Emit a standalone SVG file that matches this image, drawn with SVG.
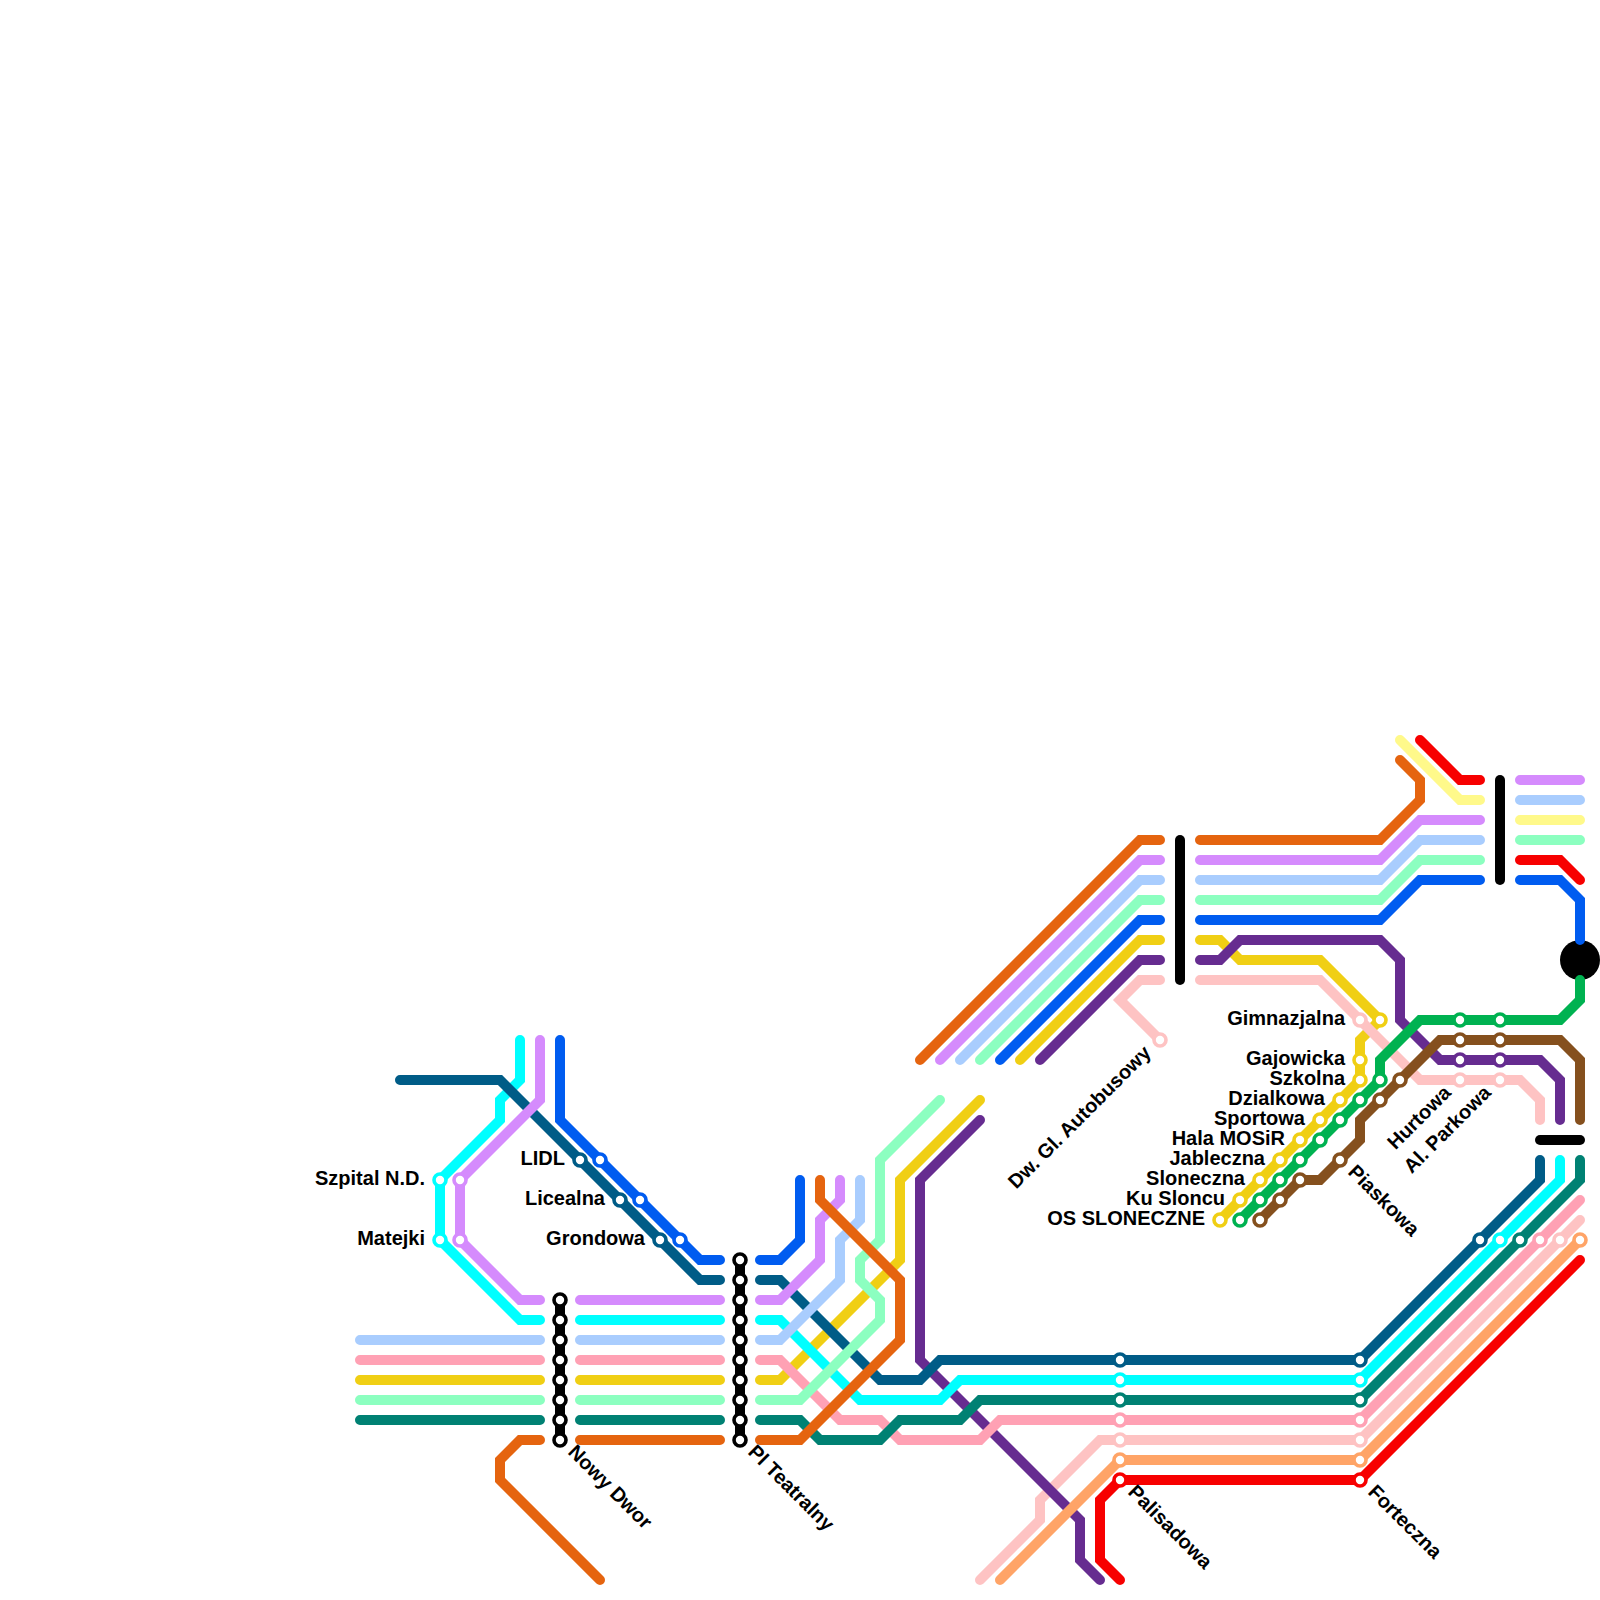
<svg xmlns="http://www.w3.org/2000/svg" width="1600" height="1600" viewBox="0 0 1600 1600">
<style>
path,line{fill:none;stroke-width:10;stroke-linecap:round;stroke-linejoin:miter}
circle{fill:#fff;stroke-width:3.6}
text{font-family:"Liberation Sans",Arial,sans-serif;font-weight:bold;font-size:20px;fill:#000}
.e{text-anchor:end}
.k{stroke:#000}
.orange{stroke:#e5640f}.lilac{stroke:#d58bfd}.sky{stroke:#a9cdfe}.mint{stroke:#8cffc0}.blue{stroke:#005cf0}.yellow{stroke:#f0cf14}.purple{stroke:#662c90}.blush{stroke:#fec3c3}.dark{stroke:#005c87}.cyan{stroke:#00ffff}.teal{stroke:#008173}.rose{stroke:#ffa1b4}.peach{stroke:#ffa467}.red{stroke:#f70000}.green{stroke:#00b251}.brown{stroke:#85501e}.pale{stroke:#fff98a}
</style>
<rect width="1600" height="1600" fill="#fff"/>
<g id="hub"><circle cx="1580" cy="960" r="20" style="fill:#000;stroke:none"/></g>
<g id="connectors">
<path class="yellow" d="M580 1380H720M360 1380H540M760 1380H780L900 1260V1180L980 1100M1020 1060L1140 940H1160M1200 940H1220L1240 960H1320L1380 1020L1360 1040V1080L1220 1220"/>
<path class="blush" d="M1160 980H1140L1120 1000L1160 1040M1200 980H1320L1420 1080H1520L1540 1100V1120M980 1580L1040 1520V1500L1100 1440H1360L1580 1220"/>
<path class="purple" d="M980 1120L920 1180V1360L1080 1520V1560L1100 1580M1040 1060L1140 960H1160M1200 960H1220L1240 940H1380L1400 960V1020L1440 1060H1540L1560 1080V1120"/>
<path class="cyan" d="M520 1040V1080L500 1100V1120L440 1180V1240L520 1320H540M580 1320H720M760 1320H780L860 1400H940L960 1380H1360L1560 1180V1160"/>
<path class="dark" d="M400 1080H500L700 1280H720M760 1280H780L880 1380H920L940 1360H1360L1540 1180V1160"/>
<path class="rose" d="M360 1360H540M580 1360H720M760 1360H780L840 1420H880L900 1440H980L1000 1420H1360L1580 1200"/>
<path class="teal" d="M360 1420H540M580 1420H720M760 1420H800L820 1440H880L900 1420H960L980 1400H1360L1580 1180V1160"/>
<path class="mint" d="M360 1400H540M580 1400H720M760 1400H800L880 1320V1300L860 1280V1260L880 1240V1160L940 1100M980 1060L1140 900H1160M1200 900H1380L1420 860H1480M1520 840H1580"/>
<path class="lilac" d="M540 1040V1100L460 1180V1240L520 1300H540M580 1300H720M760 1300H780L820 1260V1220L840 1200V1180M940 1060L1140 860H1160M1200 860H1380L1420 820H1480M1520 780H1580"/>
<path class="sky" d="M360 1340H540M580 1340H720M760 1340H780L840 1280V1240L860 1220V1180M960 1060L1140 880H1160M1200 880H1380L1420 840H1480M1520 800H1580"/>
<path class="blue" d="M560 1040V1120L700 1260H720M760 1260H780L800 1240V1180M1000 1060L1140 920H1160M1200 920H1380L1420 880H1480M1520 880H1560L1580 900V940"/>
<path class="peach" d="M1000 1580L1120 1460H1360L1580 1240"/>
<path class="red" d="M1120 1580L1100 1560V1500L1120 1480H1360L1580 1260M1420 740L1460 780H1480M1520 860H1560L1580 880"/>
<path class="green" d="M1240 1220L1380 1080V1060L1420 1020H1560L1580 1000V980"/>
<path class="brown" d="M1260 1220L1300 1180H1320L1360 1140V1120L1440 1040H1560L1580 1060V1120"/>
<path class="pale" d="M1400 740L1460 800H1480M1520 820H1580"/>
<path class="orange" d="M540 1440H520L500 1460V1480L600 1580M580 1440H720M760 1440H800L900 1340V1280L820 1200V1180M920 1060L1140 840H1160M1200 840H1380L1420 800V780L1400 760"/>
</g>
<g id="st-szpital"><circle class="cyan" cx="440" cy="1180" r="6"/><circle class="lilac" cx="460" cy="1180" r="6"/><text class="e" x="425" y="1185">Szpital N.D.</text></g>
<g id="st-matejki"><circle class="cyan" cx="440" cy="1240" r="6"/><circle class="lilac" cx="460" cy="1240" r="6"/><text class="e" x="425" y="1245">Matejki</text></g>
<g id="st-lidl"><circle class="dark" cx="580" cy="1160" r="6"/><circle class="blue" cx="600" cy="1160" r="6"/><text class="e" x="565" y="1165">LIDL</text></g>
<g id="st-licealna"><circle class="dark" cx="620" cy="1200" r="6"/><circle class="blue" cx="640" cy="1200" r="6"/><text class="e" x="605" y="1205">Licealna</text></g>
<g id="st-grondowa"><circle class="dark" cx="660" cy="1240" r="6"/><circle class="blue" cx="680" cy="1240" r="6"/><text class="e" x="645" y="1245">Grondowa</text></g>
<g id="st-nowy-dwor"><line class="k" x1="560" y1="1300" x2="560" y2="1440"/>
<circle class="k" cx="560" cy="1300" r="6"/><circle class="k" cx="560" cy="1320" r="6"/><circle class="k" cx="560" cy="1340" r="6"/><circle class="k" cx="560" cy="1360" r="6"/><circle class="k" cx="560" cy="1380" r="6"/><circle class="k" cx="560" cy="1400" r="6"/><circle class="k" cx="560" cy="1420" r="6"/><circle class="k" cx="560" cy="1440" r="6"/>
<text transform="translate(567 1453) rotate(45)">Nowy Dwor</text></g>
<g id="st-pl-teatralny"><line class="k" x1="740" y1="1260" x2="740" y2="1440"/>
<circle class="k" cx="740" cy="1260" r="6"/><circle class="k" cx="740" cy="1280" r="6"/><circle class="k" cx="740" cy="1300" r="6"/><circle class="k" cx="740" cy="1320" r="6"/><circle class="k" cx="740" cy="1340" r="6"/><circle class="k" cx="740" cy="1360" r="6"/><circle class="k" cx="740" cy="1380" r="6"/><circle class="k" cx="740" cy="1400" r="6"/><circle class="k" cx="740" cy="1420" r="6"/><circle class="k" cx="740" cy="1440" r="6"/>
<text transform="translate(747 1453) rotate(45)">Pl Teatralny</text></g>
<g id="st-palisadowa"><circle class="dark" cx="1120" cy="1360" r="6"/><circle class="cyan" cx="1120" cy="1380" r="6"/><circle class="teal" cx="1120" cy="1400" r="6"/><circle class="rose" cx="1120" cy="1420" r="6"/><circle class="blush" cx="1120" cy="1440" r="6"/><circle class="peach" cx="1120" cy="1460" r="6"/><circle class="red" cx="1120" cy="1480" r="6"/>
<text transform="translate(1127 1493) rotate(45)">Palisadowa</text></g>
<g id="st-forteczna"><circle class="dark" cx="1360" cy="1360" r="6"/><circle class="cyan" cx="1360" cy="1380" r="6"/><circle class="teal" cx="1360" cy="1400" r="6"/><circle class="rose" cx="1360" cy="1420" r="6"/><circle class="blush" cx="1360" cy="1440" r="6"/><circle class="peach" cx="1360" cy="1460" r="6"/><circle class="red" cx="1360" cy="1480" r="6"/>
<text transform="translate(1367 1493) rotate(45)">Forteczna</text></g>
<g id="st-dw-gl"><line class="k" x1="1180" y1="840" x2="1180" y2="980"/><circle class="blush" cx="1160" cy="1040" r="6"/>
<text class="e" transform="translate(1152 1054) rotate(-45)">Dw. Gl. Autobusowy</text></g>
<g id="st-gimnazjalna"><circle class="blush" cx="1360" cy="1020" r="6"/><circle class="yellow" cx="1380" cy="1020" r="6"/><text class="e" x="1345" y="1025">Gimnazjalna</text></g>
<g id="st-gajowicka"><circle class="yellow" cx="1360" cy="1060" r="6"/><text class="e" x="1345" y="1065">Gajowicka</text></g>
<g id="st-szkolna"><circle class="yellow" cx="1360" cy="1080" r="6"/><circle class="green" cx="1380" cy="1080" r="6"/><circle class="brown" cx="1400" cy="1080" r="6"/><text class="e" x="1345" y="1085">Szkolna</text></g>
<g id="st-dzialkowa"><circle class="yellow" cx="1340" cy="1100" r="6"/><circle class="green" cx="1360" cy="1100" r="6"/><circle class="brown" cx="1380" cy="1100" r="6"/><text class="e" x="1325" y="1105">Dzialkowa</text></g>
<g id="st-sportowa"><circle class="yellow" cx="1320" cy="1120" r="6"/><circle class="green" cx="1340" cy="1120" r="6"/><text class="e" x="1305" y="1125">Sportowa</text></g>
<g id="st-hala"><circle class="yellow" cx="1300" cy="1140" r="6"/><circle class="green" cx="1320" cy="1140" r="6"/><text class="e" x="1285" y="1145">Hala MOSiR</text></g>
<g id="st-jableczna"><circle class="yellow" cx="1280" cy="1160" r="6"/><circle class="green" cx="1300" cy="1160" r="6"/><circle class="brown" cx="1340" cy="1160" r="6"/><text class="e" x="1265" y="1165">Jableczna</text></g>
<g id="st-sloneczna"><circle class="yellow" cx="1260" cy="1180" r="6"/><circle class="green" cx="1280" cy="1180" r="6"/><circle class="brown" cx="1300" cy="1180" r="6"/><text class="e" x="1245" y="1185">Sloneczna</text></g>
<g id="st-ku-sloncu"><circle class="yellow" cx="1240" cy="1200" r="6"/><circle class="green" cx="1260" cy="1200" r="6"/><circle class="brown" cx="1280" cy="1200" r="6"/><text class="e" x="1225" y="1205">Ku Sloncu</text></g>
<g id="st-os-sloneczne"><circle class="yellow" cx="1220" cy="1220" r="6"/><circle class="green" cx="1240" cy="1220" r="6"/><circle class="brown" cx="1260" cy="1220" r="6"/><text class="e" x="1205" y="1225">OS SLONECZNE</text></g>
<g id="st-piaskowa"><text transform="translate(1347 1173) rotate(45)">Piaskowa</text></g>
<g id="st-hurtowa"><circle class="green" cx="1460" cy="1020" r="6"/><circle class="brown" cx="1460" cy="1040" r="6"/><circle class="purple" cx="1460" cy="1060" r="6"/><circle class="blush" cx="1460" cy="1080" r="6"/><text class="e" transform="translate(1452 1094) rotate(-45)">Hurtowa</text></g>
<g id="st-al-parkowa"><circle class="green" cx="1500" cy="1020" r="6"/><circle class="brown" cx="1500" cy="1040" r="6"/><circle class="purple" cx="1500" cy="1060" r="6"/><circle class="blush" cx="1500" cy="1080" r="6"/><text class="e" transform="translate(1492 1094) rotate(-45)">Al. Parkowa</text></g>
<g id="st-top-bar"><line class="k" x1="1500" y1="780" x2="1500" y2="880"/></g>
<g id="st-right-bar"><line class="k" x1="1540" y1="1140" x2="1580" y2="1140"/></g>
<g id="st-right-diag"><circle class="dark" cx="1480" cy="1240" r="6"/><circle class="cyan" cx="1500" cy="1240" r="6"/><circle class="teal" cx="1520" cy="1240" r="6"/><circle class="rose" cx="1540" cy="1240" r="6"/><circle class="blush" cx="1560" cy="1240" r="6"/><circle class="peach" cx="1580" cy="1240" r="6"/></g>
</svg>
